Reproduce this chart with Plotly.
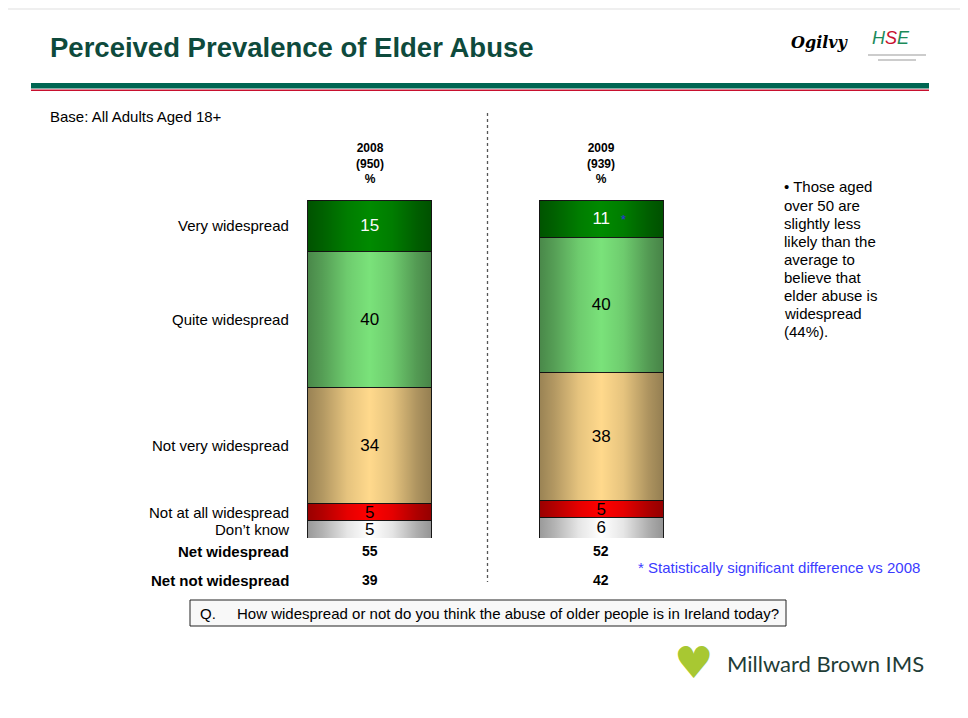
import base64
import plotly.graph_objects as go

# ---------------- data ----------------
years = ["2008", "2009"]
bases = ["950", "939"]
categories = ["Don\u2019t know", "Not at all widespread", "Not very widespread",
              "Quite widespread", "Very widespread"]          # bottom -> top
dont_know = [5, 6]
not_at_all = [5, 5]
not_very = [34, 38]
quite = [40, 40]
very = [15, 11]
net_widespread = [55, 52]
net_not_widespread = [39, 42]
series = [dont_know, not_at_all, not_very, quite, very]
note_lines = ["\u2022 Those aged", "over 50 are", "slightly less", "likely than the",
              "average to", "believe that", "elder abuse is", "widespread", "(44%)."]

colors = ["#FFFFFF", "#FF0000", "#FFD98C", "#7AE27A", "#008A00"]
text_colors = ["black", "black", "black", "black", "white"]

OFF = 8                       # page body margin
W, H = 960, 710
PL, PT, PW, PH = 254, 200, 463, 338     # plot area in page pixels
BAR_W = 0.535
FONT = "Liberation Sans, Arial, sans-serif"


def px(x):
    return (x - PL) / PW


def py(y):
    return (PT + PH - y) / PH


fig = go.Figure()
for name, vals, col, tc in zip(categories, series, colors, text_colors):
    fig.add_trace(go.Bar(
        x=years, y=vals, name=name, width=BAR_W,
        marker=dict(color=col, line=dict(color="#1a1a1a", width=1)),
        text=vals, texttemplate="%{text}", textposition="inside",
        insidetextanchor="middle", textangle=0, constraintext="none",
        textfont=dict(family=FONT, size=17, color=tc),
        hoverinfo="skip", showlegend=False,
    ))

# gradient sheen on the bars (decorative overlay)
svg = ('<svg xmlns="http://www.w3.org/2000/svg" width="100" height="100" viewBox="0 0 100 100" '
       'preserveAspectRatio="none"><defs><linearGradient id="g" x1="0" x2="1" y1="0" y2="0">'
       '<stop offset="0" stop-color="#000" stop-opacity="0.40"/>'
       '<stop offset="0.12" stop-color="#000" stop-opacity="0.30"/>'
       '<stop offset="0.32" stop-color="#000" stop-opacity="0.10"/>'
       '<stop offset="0.5" stop-color="#000" stop-opacity="0"/>'
       '<stop offset="0.68" stop-color="#000" stop-opacity="0.10"/>'
       '<stop offset="0.88" stop-color="#000" stop-opacity="0.32"/>'
       '<stop offset="1" stop-color="#000" stop-opacity="0.42"/>'
       '</linearGradient></defs><rect width="100" height="100" fill="url(#g)"/></svg>')
src = "data:image/svg+xml;base64," + base64.b64encode(svg.encode()).decode()
images = []
for i in range(len(years)):
    images.append(dict(source=src, xref="x", yref="y", x=i - BAR_W / 2, y=100,
                       sizex=BAR_W, sizey=100, sizing="stretch", layer="above",
                       xanchor="left", yanchor="top", opacity=1))

ann = []
# title & base
ann.append(dict(text="<b>Perceived Prevalence of Elder Abuse</b>", x=px(48), y=py(47),
                xanchor="left", yanchor="middle",
                font=dict(family=FONT, size=27.5, color="#0E4A3C")))
ann.append(dict(text="Base: All Adults Aged 18+", x=px(48), y=py(116),
                xanchor="left", yanchor="middle", font=dict(family=FONT, size=15, color="black")))
# column headers
for i, (yr, b) in enumerate(zip(years, bases)):
    ann.append(dict(text=f"<b>{yr}<br>({b})<br>%</b>", xref="x", x=i, y=py(188),
                    xanchor="center", yanchor="bottom", align="center",
                    font=dict(family=FONT, size=12, color="black")))
# row labels at centre of 2008 segments (normalised stack)
tot = sum(s[0] for s in series)
cum = 0
for name, vals in zip(categories, series):
    lo = cum
    cum += vals[0]
    mid = (lo + cum) / 2 * 100 / tot
    ann.append(dict(text=name, x=px(291), yref="y", y=mid, xanchor="right", yanchor="middle",
                    font=dict(family=FONT, size=15, color="black")))
ann.append(dict(text="<b>Net widespread</b>", x=px(291), y=py(551), xanchor="right",
                yanchor="middle", font=dict(family=FONT, size=15, color="black")))
ann.append(dict(text="<b>Net not widespread</b>", x=px(291), y=py(580), xanchor="right",
                yanchor="middle", font=dict(family=FONT, size=15, color="black")))
for i in range(len(years)):
    ann.append(dict(text=f"<b>{net_widespread[i]}</b>", xref="x", x=i, y=py(551),
                    xanchor="center", yanchor="middle", font=dict(family=FONT, size=14, color="black")))
    ann.append(dict(text=f"<b>{net_not_widespread[i]}</b>", xref="x", x=i, y=py(580),
                    xanchor="center", yanchor="middle", font=dict(family=FONT, size=14, color="black")))
# significance marker
ann.append(dict(text="*", x=px(623), y=py(219), xanchor="center", yanchor="middle",
                font=dict(family=FONT, size=13, color="#2E2EE8")))
# side note
for k, line in enumerate(note_lines):
    ann.append(dict(text=line, x=px(782), y=py(187 + 18 * k), xanchor="left", yanchor="middle",
                    font=dict(family=FONT, size=15, color="black")))
ann.append(dict(text="* Statistically significant difference vs 2008", x=px(636), y=py(567),
                xanchor="left", yanchor="middle", font=dict(family=FONT, size=15, color="#3B3BFF")))
# question
ann.append(dict(text="Q.", x=px(198), y=py(613), xanchor="left", yanchor="middle",
                font=dict(family=FONT, size=15, color="black")))
ann.append(dict(text="How widespread or not do you think the abuse of older people is in Ireland today?",
                x=px(235), y=py(613), xanchor="left", yanchor="middle",
                font=dict(family=FONT, size=15, color="black")))
# logos (text stand-ins)
ann.append(dict(text="Millward Brown IMS", x=px(725), y=py(663), xanchor="left", yanchor="middle",
                font=dict(family="Lato, sans-serif", size=22, color="#1F3D37")))
ann.append(dict(text="\u2665", x=px(693), y=py(662), xanchor="center", yanchor="middle",
                font=dict(family="DejaVu Sans", size=44, color="#A8C832")))
ann.append(dict(text="<i><b>Ogilvy</b></i>", x=px(820), y=py(42), xanchor="center", yanchor="middle",
                font=dict(family="DejaVu Serif", size=16, color="black")))
ann.append(dict(text='<i><span style="color:#1B8A5A">H</span><span style="color:#C8102E">S</span>'
                     '<span style="color:#1B8A5A">E</span></i>',
                x=px(891), y=py(38), xanchor="center", yanchor="middle",
                font=dict(family=FONT, size=18)))
for a in ann:
    a.setdefault("xref", "paper")
    a.setdefault("yref", "paper")
    a["showarrow"] = False

shapes = [
    # slide frame shadow (visible part)
    dict(type="rect", x0=px(8), x1=px(968), y0=py(8), y1=py(10), fillcolor="#EFEFEF", line_width=0, layer="below"),
    # header rule
    dict(type="rect", x0=px(31), x1=px(929), y0=py(83), y1=py(88.5), fillcolor="#006652", line_width=0),
    dict(type="rect", x0=px(31), x1=px(929), y0=py(89.5), y1=py(91), fillcolor="#C8102E", line_width=0),
    # HSE small text stand-in
    dict(type="line", x0=px(868), x1=px(926), y0=py(55), y1=py(55), line=dict(color="#BBBBBB", width=1.5)),
    dict(type="line", x0=px(878), x1=px(916), y0=py(60), y1=py(60), line=dict(color="#BBBBBB", width=1.5)),
    # divider
    dict(type="line", x0=px(487.5), x1=px(487.5), y0=py(113), y1=py(582),
         line=dict(color="#555555", width=1.3, dash="dot")),
    # question box
    dict(type="rect", x0=px(190), x1=px(786), y0=py(600), y1=py(626), fillcolor="#F8F8F8",
         line=dict(color="#222222", width=1), layer="below"),
]
for s in shapes:
    s["xref"] = "paper"
    s["yref"] = "paper"

fig.update_layout(
    width=W, height=H, barmode="stack", barnorm="percent",
    margin=dict(l=PL - OFF, r=W - (PL - OFF) - PW, t=PT - OFF, b=H - (PT - OFF) - PH, autoexpand=False),
    paper_bgcolor="white", plot_bgcolor="rgba(0,0,0,0)",
    xaxis=dict(range=[-0.5, 1.5], visible=False, fixedrange=True),
    yaxis=dict(range=[0, 100], visible=False, fixedrange=True),
    uniformtext=dict(minsize=17, mode="show"),
    annotations=ann, shapes=shapes, images=images,
    font=dict(family=FONT),
)
fig.write_html("out.html")
